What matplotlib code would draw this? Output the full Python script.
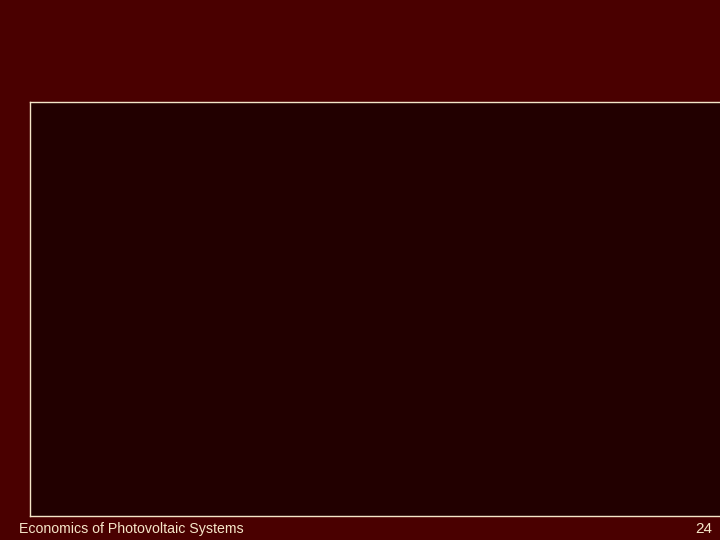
import matplotlib
matplotlib.use("Agg")
from matplotlib import pyplot as plt

# Slide footer text
footer_title = "Economics of Photovoltaic Systems"
page_number = "24"

slide_color = "#4a0000"
panel_color = "#220000"
line_color = "#f5e6c8"

plt.rcParams["font.family"] = ["Liberation Sans", "DejaVu Sans"]

fig = plt.figure(figsize=(7.2, 5.4), dpi=100)
fig.patch.set_facecolor(slide_color)

# empty panel that runs off the right edge of the slide
ax = fig.add_axes([30 / 720, 24 / 540, 700 / 720, 414 / 540])
ax.set_facecolor(panel_color)
ax.set_xticks([])
ax.set_yticks([])
for side in ["top", "bottom", "left", "right"]:
    ax.spines[side].set_color(line_color)
    ax.spines[side].set_linewidth(1.0)

fig.text(19 / 720, 7 / 540, footer_title, color=line_color, fontsize=10.2, ha="left", va="baseline")
fig.text(712 / 720, 7 / 540, page_number, color=line_color, fontsize=11, ha="right", va="baseline")

fig.savefig("out.png", dpi=100, facecolor=fig.get_facecolor())
